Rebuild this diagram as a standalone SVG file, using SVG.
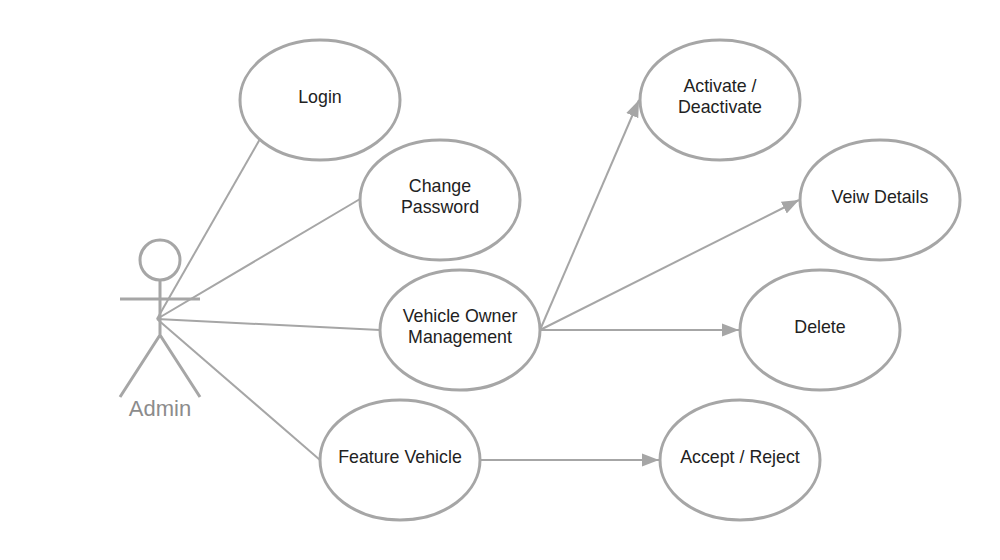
<svg xmlns="http://www.w3.org/2000/svg" width="1000" height="560" viewBox="0 0 1000 560">
<style>
.n{fill:#fff;stroke:#a6a6a6;stroke-width:3}
.c{fill:none;stroke:#a6a6a6;stroke-width:2}
.a{stroke:#a6a6a6;stroke-width:3;fill:none}
.t{font-family:"Liberation Sans",Arial,sans-serif;font-size:17.8px;fill:#222;text-anchor:middle}
</style>
<defs><marker id="ah" markerUnits="userSpaceOnUse" markerWidth="18" markerHeight="14" refX="17" refY="7" orient="auto"><path d="M0 0.5L17 7L0 13.5Z" fill="#a6a6a6"/></marker></defs>
<rect width="1000" height="560" fill="#fff"/>
<g id="connectors">
<path class="c" d="M157 319L260 139"/>
<path class="c" d="M157 319L360 199"/>
<path class="c" d="M157 319L380 330"/>
<path class="c" d="M157 319L320 460"/>
<path class="c" d="M540 330L639 100" marker-end="url(#ah)"/>
<path class="c" d="M540 330L799 200" marker-end="url(#ah)"/>
<path class="c" d="M540 330L739 330" marker-end="url(#ah)"/>
<path class="c" d="M480 460L659 460" marker-end="url(#ah)"/>
</g>
<g id="admin">
<circle cx="160" cy="260" r="20" fill="none" stroke="#a6a6a6" stroke-width="3"/>
<path class="a" d="M160 280V335M120 299H200M160 335L120 397M160 335L200 397"/>
<text x="160" y="416" style="font-family:'Liberation Sans',Arial,sans-serif;font-size:22px;fill:#8c8c8c;text-anchor:middle">Admin</text>
</g>
<g id="login"><ellipse class="n" cx="320" cy="100" rx="80" ry="60"/><text class="t" x="320" y="103">Login</text></g>
<g id="change"><ellipse class="n" cx="440" cy="200" rx="80" ry="60"/><text class="t" x="440" y="192">Change</text><text class="t" x="440" y="213">Password</text></g>
<g id="vom"><ellipse class="n" cx="460" cy="330" rx="80" ry="60"/><text class="t" x="460" y="322">Vehicle Owner</text><text class="t" x="460" y="343">Management</text></g>
<g id="feature"><ellipse class="n" cx="400" cy="460" rx="80" ry="60"/><text class="t" x="400" y="463">Feature Vehicle</text></g>
<g id="activate"><ellipse class="n" cx="720" cy="100" rx="80" ry="60"/><text class="t" x="720" y="92">Activate /</text><text class="t" x="720" y="113">Deactivate</text></g>
<g id="details"><ellipse class="n" cx="880" cy="200" rx="80" ry="60"/><text class="t" x="880" y="203">Veiw Details</text></g>
<g id="delete"><ellipse class="n" cx="820" cy="330" rx="80" ry="60"/><text class="t" x="820" y="333">Delete</text></g>
<g id="accept"><ellipse class="n" cx="740" cy="460" rx="80" ry="60"/><text class="t" x="740" y="463">Accept / Reject</text></g>
</svg>
